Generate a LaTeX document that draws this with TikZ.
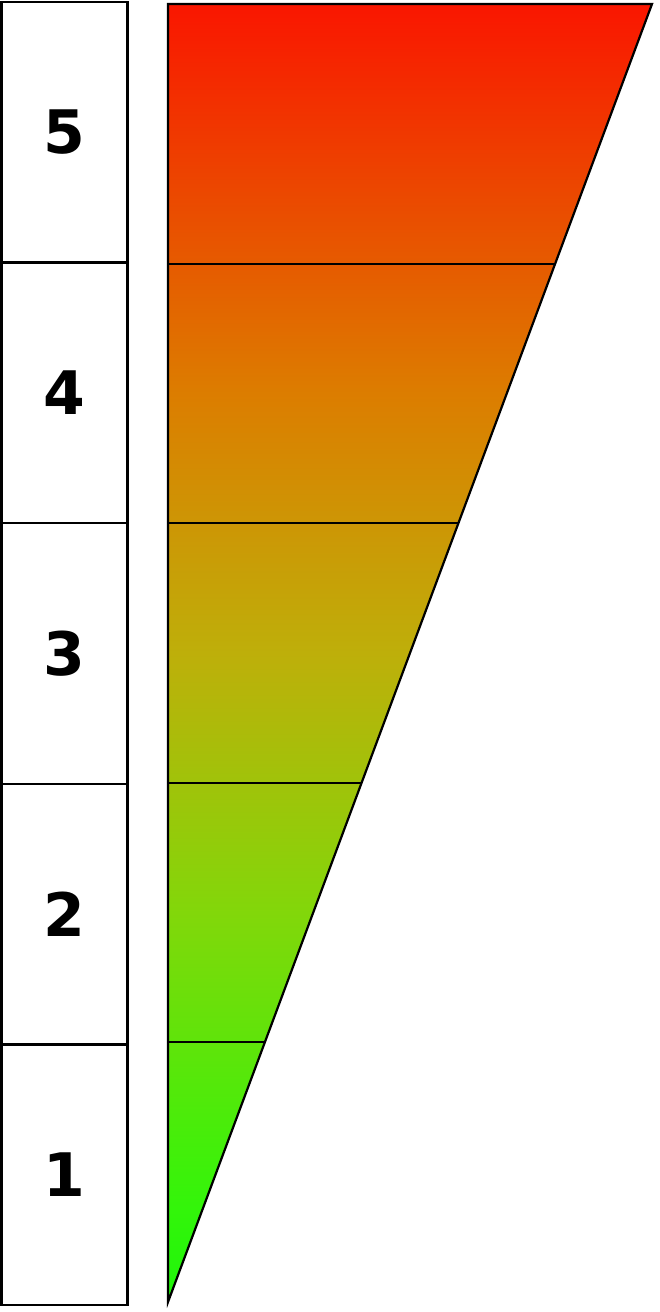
\documentclass[tikz,border=0pt]{standalone}
\usepackage{fontspec}
\setmainfont{DejaVu Sans}
\usetikzlibrary{calc}
\pgfdeclareverticalshading{redgreen}{100bp}{%
  rgb(0bp)=(0.118,0.961,0.039);
  rgb(25bp)=(0.118,0.961,0.039);
  rgb(28.5bp)=(0.196,0.961,0.039);
  rgb(40bp)=(0.510,0.843,0.039);
  rgb(50bp)=(0.745,0.686,0.039);
  rgb(60bp)=(0.863,0.490,0.0);
  rgb(75bp)=(0.980,0.086,0.0);
  rgb(100bp)=(0.980,0.086,0.0)}
\tikzset{
  levelbox/.style={draw=black, line width=2.5pt, fill=white, rectangle,
    minimum width=126pt, minimum height=260.6pt, inner sep=0pt,
    font=\fontsize{60}{60}\selectfont\bfseries},
  edge/.style={draw=black, line width=2.2pt},
  divider/.style={draw=black, line width=2pt}
}
\begin{document}
\begin{tikzpicture}[x=1pt,y=-1pt]
  \useasboundingbox (0,0) rectangle (660,1312);
  % level boxes
  \node[levelbox] (b5) at (64.5,132.3) {5};
  \node[levelbox] (b4) at (64.5,392.9) {4};
  \node[levelbox] (b3) at (64.5,653.5) {3};
  \node[levelbox] (b2) at (64.5,914.1) {2};
  \node[levelbox] (b1) at (64.5,1174.7) {1};
  % triangle
  \coordinate (tl) at (168,4);
  \coordinate (tr) at (652,4);
  \coordinate (bt) at (168,1302);
  \shade[shading=redgreen] (tl) -- (tr) -- (bt) -- cycle;
  \foreach \k in {1,2,3,4}{
    \draw[divider] ($(tl)!\k/5!(bt)$) -- ($(tr)!\k/5!(bt)$);
  }
  \draw[edge, line join=miter] (tl) -- (tr) -- (bt) -- cycle;
\end{tikzpicture}
\end{document}
